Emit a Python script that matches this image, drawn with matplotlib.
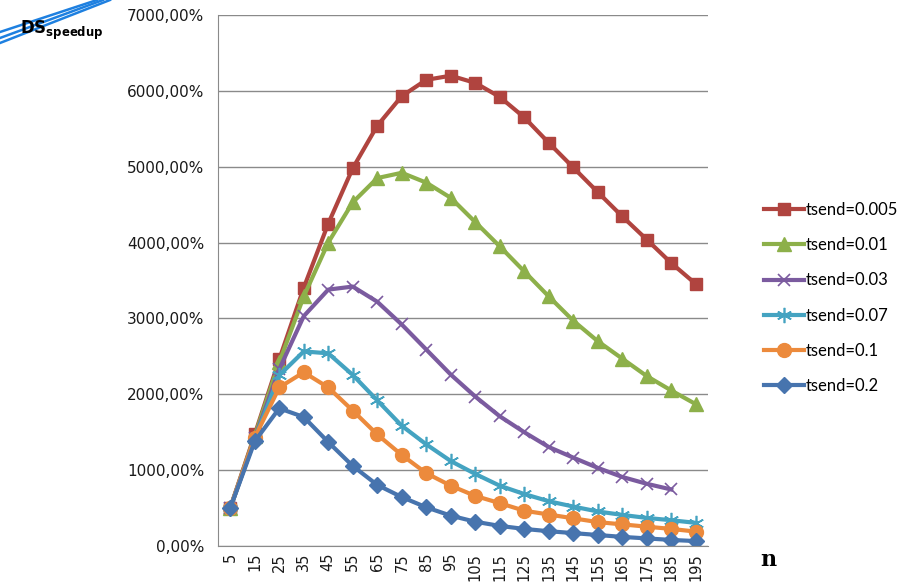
import matplotlib
matplotlib.use("Agg")
import matplotlib.pyplot as plt
from matplotlib.lines import Line2D
from matplotlib.ticker import FuncFormatter

# speedup in percent for each message send time, n = 5 .. 195
n = [5, 15, 25, 35, 45, 55, 65, 75, 85, 95, 105, 115, 125, 135, 145, 155, 165, 175, 185, 195]
ts_0005 = [500, 1470, 2460, 3405, 4250, 4980, 5540, 5930, 6145, 6200, 6105, 5920, 5650, 5315, 4990, 4665, 4345, 4040, 3730, 3455]
ts_001 = [500, 1450, 2420, 3290, 4000, 4530, 4850, 4920, 4790, 4590, 4270, 3950, 3620, 3290, 2970, 2700, 2470, 2240, 2050, 1870]
ts_003 = [500, 1420, 2330, 3030, 3380, 3420, 3220, 2920, 2590, 2260, 1970, 1710, 1500, 1305, 1165, 1030, 910, 820, 745]
ts_007 = [500, 1410, 2250, 2565, 2540, 2255, 1920, 1585, 1340, 1120, 950, 795, 685, 590, 520, 455, 410, 370, 340, 305]
ts_01 = [500, 1430, 2090, 2290, 2090, 1785, 1470, 1200, 960, 795, 660, 565, 465, 415, 365, 315, 285, 255, 225, 190]
ts_02 = [500, 1380, 1815, 1700, 1370, 1055, 805, 645, 510, 400, 320, 265, 225, 195, 170, 145, 120, 100, 80, 65]

labels = ["tsend=0.005", "tsend=0.01", "tsend=0.03", "tsend=0.07", "tsend=0.1", "tsend=0.2"]

fig = plt.figure(figsize=(9, 5.85), dpi=100)
ax = fig.add_axes([218 / 900, 1 - 546 / 585, 490 / 900, 531 / 585])

series = [
    (ts_0005, "#B0443F", "s", 9, 1.0),
    (ts_001, "#8DB04A", "^", 10, 1.0),
    (ts_003, "#7B5B9F", "x", 9, 1.2),
    (ts_007, "#44A3C1", (6, 2, 0), 11, 1.2),
    (ts_01, "#EC8A3C", "o", 10, 1.0),
    (ts_02, "#4774AE", "D", 8, 1.0),
]

handles = []
for (vals, col, mk, ms, mew), lab in zip(series, labels):
    xs = list(range(len(vals)))
    h, = ax.plot(xs, vals, color=col, lw=3, marker=mk, ms=ms,
                 mec=col, mfc=col, mew=mew, label=lab, solid_joinstyle="round")
    handles.append(h)

ax.set_xlim(-0.5, len(n) - 0.5)
ax.set_ylim(0, 7000)
ax.set_yticks(range(0, 7001, 1000))
ax.yaxis.set_major_formatter(FuncFormatter(lambda v, p: f"{v:.2f}%".replace(".", ",")))
ax.set_xticks(range(len(n)))
ax.set_xticklabels([str(v) for v in n], rotation=90, va="top")

ax.grid(axis="y", color="#8a8a8a", lw=1)
ax.set_axisbelow(True)
for s in ["top", "right"]:
    ax.spines[s].set_visible(False)
for s in ["left", "bottom"]:
    ax.spines[s].set_color("#8a8a8a")
ax.tick_params(length=0, colors="#1a1a1a")
ax.tick_params(axis="y", pad=10, labelsize=11)
ax.tick_params(axis="x", pad=5, labelsize=10.5)

fig.legend(handles=handles, loc="center left", frameon=False,
           bbox_to_anchor=(749 / 900, 1 - 298 / 585),
           prop={"family": "Lato", "size": 12},
           labelspacing=1.15, handlelength=2.4, handletextpad=0.1)

fig.text(760 / 900, 1 - 560 / 585, "n", family="DejaVu Serif",
         fontweight="bold", fontsize=16, va="center")
fig.text(20 / 900, 1 - 30 / 585, r"$\mathbf{DS}_{\mathbf{speedup}}$",
         fontsize=12, va="center")

# blue strokes across the corner
for y0, x1 in [(32, 97), (38, 103), (43, 110)]:
    fig.add_artist(Line2D([0, x1 / 900], [1 - y0 / 585, 1], color="#1E80E0",
                          lw=1.8, transform=fig.transFigure))

fig.savefig("out.png", dpi=100)
